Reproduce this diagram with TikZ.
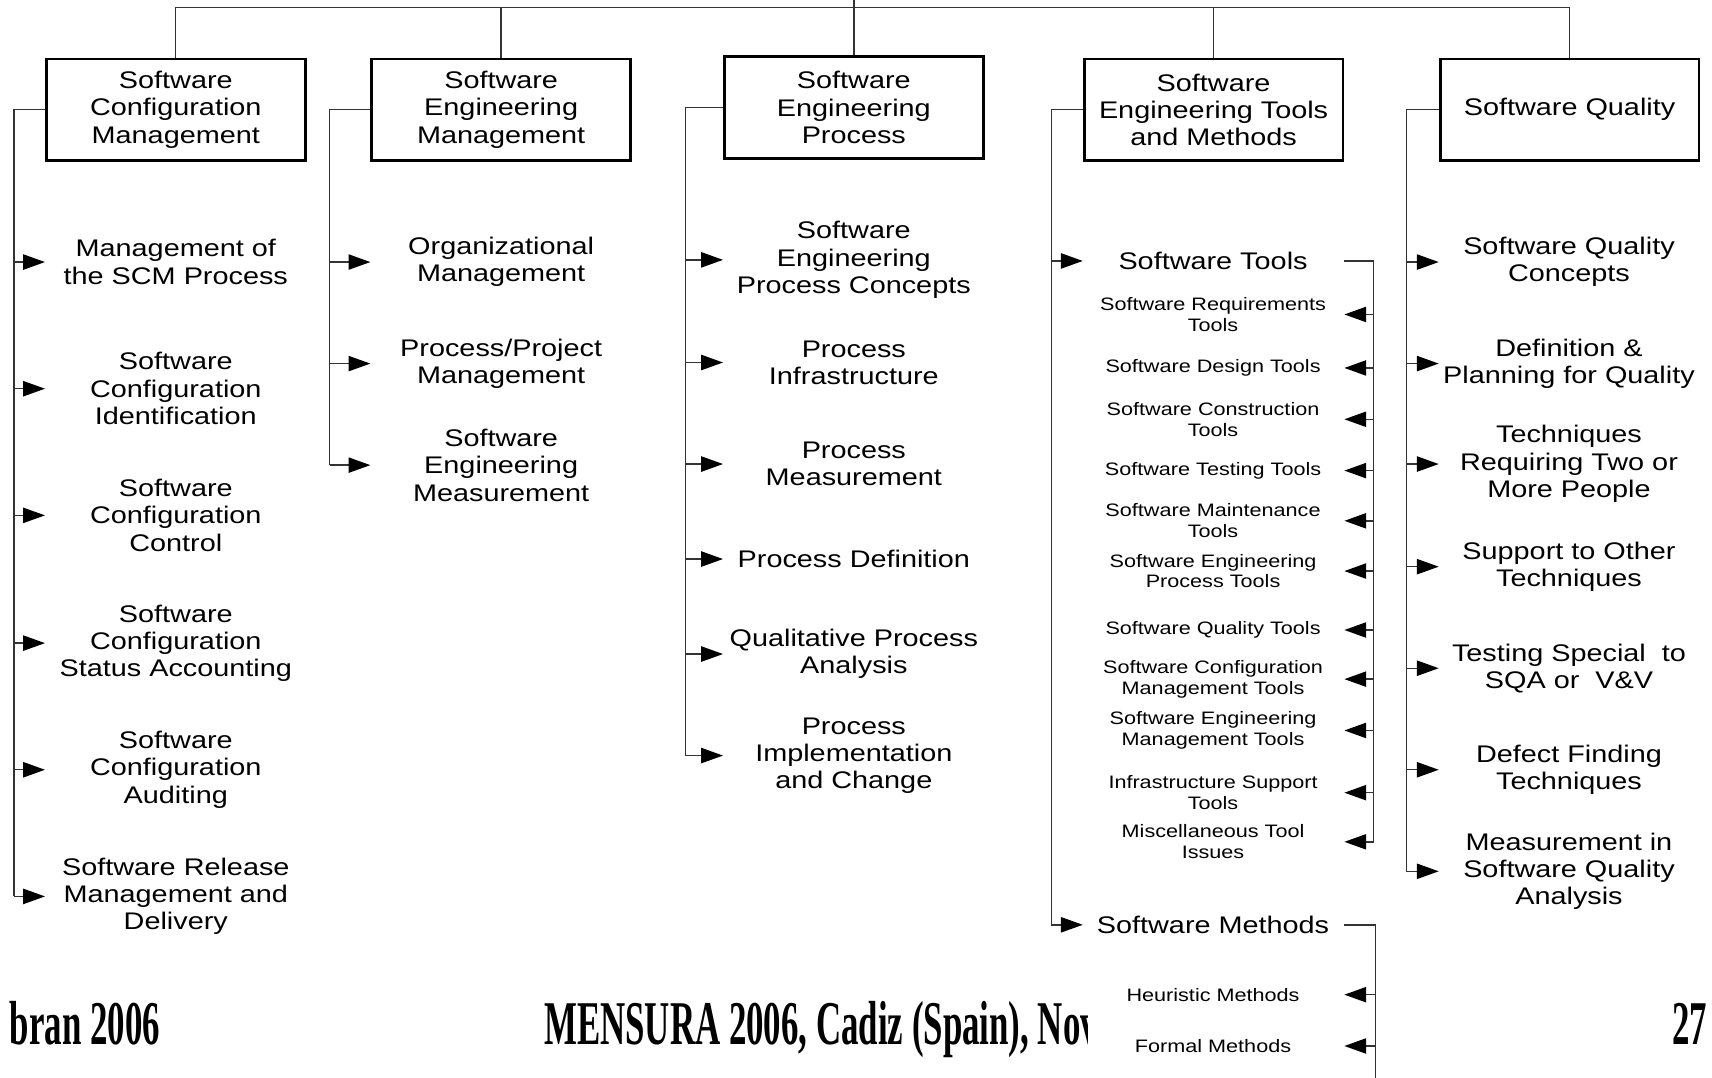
\documentclass[tikz,border=0pt]{standalone}
\usepackage{fontspec}
\usetikzlibrary{arrows.meta}
\newfontfamily\diagfont{Liberation Sans}[FakeStretch=1.2]
\newfontfamily\footfont{Liberation Serif}[FakeStretch=0.56]

\tikzset{
  kabox/.style={draw=black, line width=1.3pt, minimum width=118.5pt, minimum height=46.5pt,
    inner sep=0pt, align=center, font=\diagfont\fontsize{11}{12.5}\selectfont},
  topic/.style={inner sep=0pt, align=center, font=\diagfont\fontsize{11}{12.5}\selectfont},
  subtopic/.style={inner sep=0pt, align=center, font=\diagfont\fontsize{8.25}{9.5}\selectfont},
  link/.style={draw=black!80, line width=0.65pt},
  arr/.style={link, -{Triangle[length=10pt,width=7pt,color=black]}},
  foot/.style={inner sep=0pt, font=\footfont\bfseries\fontsize{28.5}{30}\selectfont}
}

\begin{document}
\begin{tikzpicture}[x=0.5pt, y=-0.5pt]
\useasboundingbox (0,0) rectangle (1568,987);

% slide footer (partly covered by the diagram)
\begin{scope}
  \clip (0,880) rectangle (996,987);
  \node[foot, anchor=base east] (fl) at (147,957) {bran 2006};
  \node[foot, anchor=base west] (fc) at (498,957) {MENSURA 2006, Cadiz (Spain), Nov};
\end{scope}
\node[foot, anchor=base east] (fr) at (1564,957) {27};

% knowledge areas
\node[kabox] (b1) at (161,100.5) {Software\\Configuration\\Management};
\node[kabox] (b2) at (459,100.5) {Software\\Engineering\\Management};
\node[kabox] (b3) at (782,98.5) {Software\\Engineering\\Process};
\node[kabox] (b4) at (1111.5,100.5) {Software\\Engineering Tools\\and Methods};
\node[kabox] (b5) at (1437.5,100.5) {Software Quality};

% bus above the areas
\coordinate (bus) at (0,7);
\coordinate (top) at (782,0);
\draw[link] (b1.north) -- (b1.north |- bus) -- (b5.north |- bus) -- (b5.north);
\draw[link] (b2.north) -- (b2.north |- bus);
\draw[link] (b4.north) -- (b4.north |- bus);
\draw[link] (b3.north) -- (top);

% ---------- Software Configuration Management
\node[topic] (c1a) at (161,240) {Management of\\the SCM Process};
\node[topic] (c1b) at (161,356) {Software\\Configuration\\Identification};
\node[topic] (c1c) at (161,472) {Software\\Configuration\\Control};
\node[topic] (c1d) at (161,589) {Software\\Configuration\\Status Accounting};
\node[topic] (c1e) at (161,705) {Software\\Configuration\\Auditing};
\node[topic] (c1f) at (161,821) {Software Release\\Management and\\Delivery};
\coordinate (sp1) at (13,0);
\draw[link] (b1.west) -| (sp1 |- c1f);
\foreach \n in {c1a,c1b,c1c,c1d,c1e,c1f}
  \draw[arr] (sp1 |- \n) -- (b1.west |- \n);

% ---------- Software Engineering Management
\node[topic] (c2a) at (459,240) {Organizational\\Management};
\node[topic] (c2b) at (459,333) {Process/Project\\Management};
\node[topic] (c2c) at (459,426) {Software\\Engineering\\Measurement};
\coordinate (sp2) at (302,0);
\draw[link] (b2.west) -| (sp2 |- c2c);
\foreach \n in {c2a,c2b,c2c}
  \draw[arr] (sp2 |- \n) -- (b2.west |- \n);

% ---------- Software Engineering Process
\node[topic] (c3a) at (782,238) {Software\\Engineering\\Process Concepts};
\node[topic] (c3b) at (782,332) {Process\\Infrastructure};
\node[topic] (c3c) at (782,425) {Process\\Measurement};
\node[topic] (c3d) at (782,512) {Process Definition};
\node[topic] (c3e) at (782,599) {Qualitative Process\\Analysis};
\node[topic] (c3f) at (782,692) {Process\\Implementation\\and Change};
\coordinate (sp3) at (628,0);
\draw[link] (b3.west) -| (sp3 |- c3f);
\foreach \n in {c3a,c3b,c3c,c3d,c3e,c3f}
  \draw[arr] (sp3 |- \n) -- (b3.west |- \n);

% ---------- Software Engineering Tools and Methods
\node[topic] (t0) at (1111,239) {Software Tools};
\node[subtopic] (t1) at (1111,288) {Software Requirements\\Tools};
\node[subtopic] (t2) at (1111,337) {Software Design Tools};
\node[subtopic] (t3) at (1111,384) {Software Construction\\Tools};
\node[subtopic] (t4) at (1111,431) {Software Testing Tools};
\node[subtopic] (t5) at (1111,477) {Software Maintenance\\Tools};
\node[subtopic] (t6) at (1111,523) {Software Engineering\\Process Tools};
\node[subtopic] (t7) at (1111,577) {Software Quality Tools};
\node[subtopic] (t8) at (1111,622) {Software Configuration\\Management Tools};
\node[subtopic] (t9) at (1111,669) {Software Engineering\\Management Tools};
\node[subtopic] (t10) at (1111,726) {Infrastructure Support\\Tools};
\node[subtopic] (t11) at (1111,771) {Miscellaneous Tool\\Issues};
\node[topic] (m0) at (1111,847) {Software Methods};
\node[subtopic] (m1) at (1111,911) {Heuristic Methods};
\node[subtopic] (m2) at (1111,958) {Formal Methods};

\coordinate (sp4) at (963,0);
\draw[link] (b4.west) -| (sp4 |- m0);
\foreach \n in {t0,m0}
  \draw[arr] (sp4 |- \n) -- (b4.west |- \n);

\coordinate (tb) at (1258,0);
\draw[link] (b4.east |- t0) -| (tb |- t11);
\foreach \n in {t1,t2,t3,t4,t5,t6,t7,t8,t9,t10,t11}
  \draw[arr] (tb |- \n) -- (b4.east |- \n);

\coordinate (mb) at (1260,0);
\coordinate (mend) at (1260,987);
\draw[link] (b4.east |- m0) -| (mend);
\foreach \n in {m1,m2}
  \draw[arr] (mb |- \n) -- (b4.east |- \n);

% ---------- Software Quality
\node[topic] (q1) at (1437,240) {Software Quality\\Concepts};
\node[topic] (q2) at (1437,333) {Definition \&\\Planning for Quality};
\node[topic] (q3) at (1437,425) {Techniques\\Requiring Two or\\More People};
\node[topic] (q4) at (1437,519) {Support to Other\\Techniques};
\node[topic] (q5) at (1437,612) {Testing Special\ \ to\\SQA or\ \ V\&V};
\node[topic] (q6) at (1437,705) {Defect Finding\\Techniques};
\node[topic] (q7) at (1437,798) {Measurement in\\Software Quality\\Analysis};
\coordinate (sp5) at (1288,0);
\draw[link] (b5.west) -| (sp5 |- q7);
\foreach \n in {q1,q2,q3,q4,q5,q6,q7}
  \draw[arr] (sp5 |- \n) -- (b5.west |- \n);
\end{tikzpicture}
\end{document}
